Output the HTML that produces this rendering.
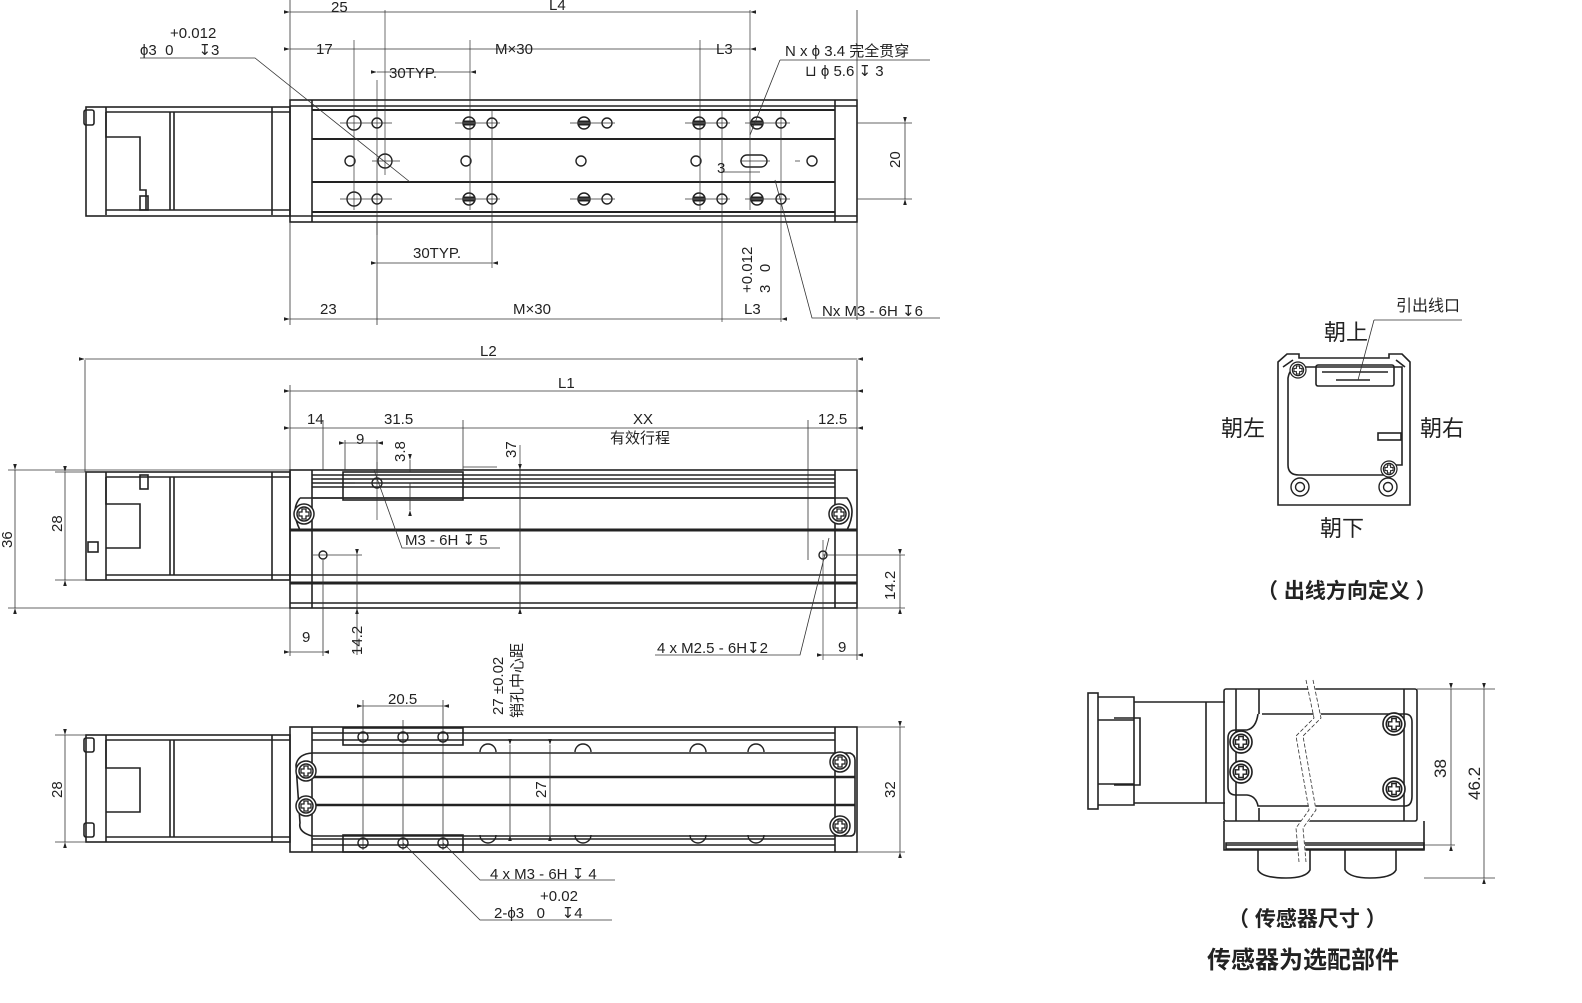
<!DOCTYPE html>
<html><head><meta charset="utf-8"><style>
html,body{margin:0;padding:0;background:#fff;width:1582px;height:1003px;overflow:hidden;}
svg{position:absolute;left:0;top:0;}
text{font-family:"Liberation Sans","Noto Sans CJK SC",sans-serif;fill:#222;font-size:15px;}
.s{font-family:"DejaVu Sans",sans-serif;}
.o{fill:none;stroke:#222;stroke-width:1.6;}
.t{fill:none;stroke:#222;stroke-width:3;}
.d{fill:none;stroke:#333;stroke-width:0.8;}
.dd{fill:none;stroke:#333;stroke-width:0.8;marker-start:url(#a);marker-end:url(#a);}
.h{fill:none;stroke:#222;stroke-width:1.4;}
.cn{fill:none;stroke:#333;stroke-width:0.7;}
</style></head><body>
<svg width="1582" height="1003" viewBox="0 0 1582 1003" xmlns="http://www.w3.org/2000/svg">
<defs>
<marker id="a" viewBox="0 0 10 10" refX="0" refY="5" markerWidth="9" markerHeight="6" orient="auto-start-reverse" markerUnits="userSpaceOnUse"><path d="M10,5 L0,2 L0,8z" fill="#222" transform="rotate(180 5 5)"/></marker>
<symbol id="scr" viewBox="-10 -10 20 20" overflow="visible">
<circle r="10" fill="#fff" stroke="#222" stroke-width="1.5"/><circle r="7" fill="none" stroke="#222" stroke-width="1.5"/>
<path d="M-2,-5 H2 V-2 H5 V2 H2 V5 H-2 V2 H-5 V-2 H-2Z" fill="none" stroke="#222" stroke-width="1.3"/>
</symbol>
<symbol id="hb" viewBox="-7 -7 14 14" overflow="visible"><circle r="6" fill="#fff" stroke="#222" stroke-width="1.5"/><path d="M-5,-1.5H5M-5,1.5H5" stroke="#222" stroke-width="2"/></symbol>
</defs>

<!-- ===================== TOP VIEW ===================== -->
<g>
<rect class="o" x="86" y="107" width="204" height="109"/>
<path class="o" d="M106,107 V215 M106,112 H290 M106,210 H290 M170,112 V210 M174,112 V210 M272,107 V215"/>
<path class="o" d="M106,112 V137 H140 V190 H146 V210"/>
<rect class="o" x="84" y="110" width="10" height="15" rx="2"/>
<rect class="o" x="140" y="196" width="8" height="14"/>
<rect class="o" x="290" y="100" width="567" height="122"/>
<path class="o" d="M312,100 V222 M835,100 V222 M290,106 H857 M290,216 H857"/>
<path class="t" d="M312,110 H835 M312,139 H835 M312,182 H835 M312,212 H835" style="stroke-width:2"/>
<g class="h">
<circle cx="354" cy="123" r="7"/><circle cx="377" cy="123" r="5"/>
<circle cx="354" cy="199" r="7"/><circle cx="377" cy="199" r="5"/>
<circle cx="350" cy="161" r="5"/><circle cx="385" cy="161" r="7"/>
<circle cx="466" cy="161" r="5"/><circle cx="581" cy="161" r="5"/><circle cx="696" cy="161" r="5"/><circle cx="812" cy="161" r="5"/>
<circle cx="492" cy="123" r="5"/><circle cx="607" cy="123" r="5"/><circle cx="722" cy="123" r="5"/><circle cx="781" cy="123" r="5"/>
<circle cx="492" cy="199" r="5"/><circle cx="607" cy="199" r="5"/><circle cx="722" cy="199" r="5"/><circle cx="781" cy="199" r="5"/>
<rect x="741" y="155" width="26" height="12" rx="6"/>
</g>
<use href="#hb" x="462" y="116" width="14" height="14"/><use href="#hb" x="577" y="116" width="14" height="14"/><use href="#hb" x="692" y="116" width="14" height="14"/><use href="#hb" x="750" y="116" width="14" height="14"/>
<use href="#hb" x="462" y="192" width="14" height="14"/><use href="#hb" x="577" y="192" width="14" height="14"/><use href="#hb" x="692" y="192" width="14" height="14"/><use href="#hb" x="750" y="192" width="14" height="14"/>
<path class="cn" d="M340,123 H392 M340,199 H392 M372,161 H400 M377,80 V235 M385,10 V175 M354,40 V210 M470,40 V210 M492,110 V268 M700,40 V210 M722,110 V322 M750,10 V210 M781,110 V322 M455,123 H500 M455,199 H500 M570,123 H615 M570,199 H615 M685,123 H730 M685,199 H730 M745,123 H790 M745,199 H790 M740,161 H770"/>
<path class="d" d="M290,0 V100 M857,100 V10"/>
<path class="dd" d="M290,12 H385 M385,12 H750"/>
<path class="dd" d="M290,49 H354 M354,49 H700 M700,49 H750"/>
<path class="dd" d="M377,72 H470"/>
<text x="331" y="12">25</text><text x="549" y="10">L4</text>
<text x="316" y="54">17</text><text x="495" y="54">M×30</text><text x="716" y="54">L3</text>
<text x="389" y="78">30TYP.</text>
<text x="170" y="38">+0.012</text><text x="140" y="55">ϕ3&#160;&#160;0&#160;&#160;&#160;&#160;&#160;&#160;<tspan class="s">↧</tspan>3</text>
<path class="d" d="M140,58 H255 L410,182"/>
<text x="785" y="56">N x ϕ 3.4 完全贯穿</text>
<text x="805" y="76">⊔&#160;ϕ 5.6 <tspan class="s">↧</tspan> 3</text>
<path class="d" d="M780,60 H930 M780,60 L750,135"/>
<path class="d" d="M290,222 V325 M377,222 V325 M857,222 V320"/>
<path class="dd" d="M377,263 H492"/><text x="413" y="258">30TYP.</text>
<path class="dd" d="M290,319 H377 M377,319 H722 M722,319 H781"/>
<text x="320" y="314">23</text><text x="513" y="314">M×30</text><text x="744" y="314">L3</text>
<path class="d" d="M722,172 H760 M795,161 H800"/>
<text x="717" y="173">3</text>
<text transform="translate(752,293) rotate(-90)">+0.012</text>
<text transform="translate(770,293) rotate(-90)">3&#160;&#160;&#160;0</text>
<path class="d" d="M775,180 L812,318 H940"/>
<text x="822" y="316">Nx&#160;M3 - 6H <tspan class="s">↧</tspan>6</text>
<path class="d" d="M857,123 H912 M857,199 H912"/>
<path class="dd" d="M905,123 V199"/>
<text transform="translate(900,168) rotate(-90)">20</text>
</g>

<!-- ===================== SIDE VIEW ===================== -->
<g>
<path class="d" d="M85,360 V472 M857,360 V470"/>
<path class="dd" d="M85,359 H857"/><text x="480" y="356">L2</text>
<path class="d" d="M290,385 V470"/>
<path class="dd" d="M290,391 H857"/><text x="558" y="388">L1</text>
<path class="d" d="M323,420 V470 M463,420 V470 M808,420 V560"/>
<path class="dd" d="M290,428 H323 M323,428 H463 M463,428 H808 M808,428 H857"/>
<text x="307" y="424">14</text><text x="384" y="424">31.5</text><text x="633" y="424">XX</text><text x="610" y="443">有效行程</text><text x="818" y="424">12.5</text>
<rect class="o" x="86" y="472" width="204" height="108"/>
<path class="o" d="M106,472 V580 M106,477 H290 M106,575 H290 M170,477 V575 M174,477 V575 M272,472 V580"/>
<path class="o" d="M106,477 V504 H140 V548 H106"/>
<rect class="o" x="140" y="475" width="8" height="14"/><rect class="o" x="88" y="542" width="10" height="10"/>
<rect class="o" x="290" y="470" width="567" height="138"/>
<path class="o" d="M312,470 V608 M835,470 V608"/>
<path class="o" d="M312,475 H835 M312,479 H835 M312,483 H835 M312,487 H835 M312,498 H835 M290,575 H857 M290,603 H857"/>
<path class="t" d="M290,530 H857 M290,583 H857"/>
<path class="o" d="M300,498 H847 Q857,510 847,530 H300 Q290,510 300,498"/>
<rect class="o" x="343" y="472" width="120" height="28" fill="#fff"/>
<use href="#scr" x="294" y="504" width="20" height="20"/><use href="#scr" x="829" y="504" width="20" height="20"/>
<circle class="h" cx="377" cy="483" r="5" fill="#222" fill-opacity=".3"/>
<circle class="h" cx="323" cy="555" r="4"/><circle class="h" cx="823" cy="555" r="4"/>
<path class="cn" d="M355,483 H413 M377,462 V520 M313,555 H362 M823,540 V660 M823,555 H905 M520,445 V608 M463,467 H497"/>
<path class="dd" d="M520,470 V608"/><text transform="translate(516,458) rotate(-90)">37</text>
<path class="d" d="M345,440 V470 M377,440 V470"/><path class="dd" d="M345,443 H377"/><text x="356" y="444">9</text>
<path class="dd" d="M410,460 V472 M410,483 V510"/><text transform="translate(405,462) rotate(-90)">3.8</text>
<path class="d" d="M374,470 L402,548 H500"/><text x="405" y="545">M3 - 6H <tspan class="s">↧</tspan> 5</text>
<path class="d" d="M8,470 H290 M55,472 H86 M55,580 H86 M8,608 H290"/>
<path class="dd" d="M15,470 V608"/><text transform="translate(12,548) rotate(-90)">36</text>
<path class="dd" d="M65,472 V580"/><text transform="translate(62,532) rotate(-90)">28</text>
<path class="d" d="M290,608 V656 M323,560 V656 M857,608 V660"/>
<path class="dd" d="M290,652 H323"/><text x="302" y="642">9</text>
<path class="dd" d="M357,555 V608"/><path class="d" d="M357,608 V655"/><text transform="translate(362,655) rotate(-90)">14.2</text>
<path class="dd" d="M823,655 H857"/><text x="838" y="652">9</text>
<path class="dd" d="M900,555 V608"/><path class="d" d="M857,608 H905"/><text transform="translate(895,600) rotate(-90)">14.2</text>
<path class="d" d="M829,538 L800,655 H655"/><text x="657" y="653">4 x&#160;M2.5 - 6H<tspan class="s">↧</tspan>2</text>
</g>

<!-- ===================== BOTTOM VIEW ===================== -->
<g>
<text transform="translate(503,715) rotate(-90)">27 ±0.02</text>
<text transform="translate(522,718) rotate(-90)">销孔中心距</text>
<path class="d" d="M363,700 V850 M443,700 V850 M403,720 V850"/><path class="dd" d="M363,706 H443"/><text x="388" y="704">20.5</text>
<rect class="o" x="86" y="735" width="204" height="107"/>
<path class="o" d="M106,735 V842 M106,740 H290 M106,837 H290 M170,740 V837 M174,740 V837 M272,735 V842"/>
<path class="o" d="M106,740 V768 H140 V812 H106"/>
<rect class="o" x="84" y="738" width="10" height="14" rx="2"/><rect class="o" x="84" y="823" width="10" height="14" rx="2"/>
<path class="d" d="M55,735 H86 M55,842 H86"/><path class="dd" d="M65,735 V842"/><text transform="translate(62,798) rotate(-90)">28</text>
<rect class="o" x="290" y="727" width="567" height="125"/>
<path class="o" d="M312,727 V852 M835,727 V852 M312,733 H835 M312,740 H835 M312,839 H835 M312,845 H835"/>
<path class="o" d="M312,753 H850 Q855,755 855,760 V830 Q855,836 850,836 H312 Q298,832 300,823 L296,765 Q298,754 312,753"/>
<path class="t" d="M298,777 H855 M298,805 H855" style="stroke-width:2.5"/>
<rect class="o" x="343" y="728" width="120" height="17" fill="#fff"/><rect class="o" x="343" y="835" width="120" height="17" fill="#fff"/>
<g class="h"><circle cx="363" cy="737" r="5"/><circle cx="403" cy="737" r="5"/><circle cx="443" cy="737" r="5"/><circle cx="363" cy="843" r="5"/><circle cx="403" cy="843" r="5"/><circle cx="443" cy="843" r="5"/>
<path d="M480,752 a8,8 0 0 1 16,0 M575,752 a8,8 0 0 1 16,0 M690,752 a8,8 0 0 1 16,0 M748,752 a8,8 0 0 1 16,0 M480,835 a8,8 0 0 0 16,0 M575,835 a8,8 0 0 0 16,0 M690,835 a8,8 0 0 0 16,0 M748,835 a8,8 0 0 0 16,0"/></g>
<use href="#scr" x="296" y="761" width="20" height="20"/><use href="#scr" x="296" y="796" width="20" height="20"/>
<use href="#scr" x="830" y="752" width="20" height="20"/><use href="#scr" x="830" y="816" width="20" height="20"/>
<path class="dd" d="M510,745 V835"/><path class="dd" d="M550,745 V835"/><text transform="translate(546,798) rotate(-90)">27</text>
<path class="d" d="M857,727 H905 M857,852 H905"/><path class="dd" d="M900,727 V852"/><text transform="translate(895,798) rotate(-90)">32</text>
<path class="d" d="M443,843 L480,880 H615 M403,843 L480,920 H612"/>
<text x="490" y="879">4 x&#160;M3 - 6H <tspan class="s">↧</tspan> 4</text>
<text x="540" y="901">+0.02</text>
<text x="494" y="918">2-ϕ3&#160;&#160;&#160;0&#160;&#160;&#160;&#160;<tspan class="s">↧</tspan>4</text>
</g>

<!-- ===================== SENSOR END VIEW ===================== -->
<g>
<path class="o" d="M1278,362 L1287,354 H1299 V358 H1389 V354 H1402 L1410,362 V505 H1278Z"/>
<path class="o" d="M1283,367 L1293,360 M1405,367 L1396,360"/>
<path class="o" d="M1298,367 H1402 V465 H1393 V475 H1299 Q1288,475 1288,465 V378 Q1290,367 1298,367" stroke-width="1.3"/>
<rect class="o" x="1316" y="365" width="78" height="21" rx="2"/>
<path class="o" d="M1322,372 H1388 M1336,380 H1370"/>
<use href="#scr" x="1290" y="362" width="16" height="16"/><use href="#scr" x="1381" y="461" width="16" height="16"/>
<circle class="h" cx="1300" cy="487" r="9"/><circle class="h" cx="1300" cy="487" r="4.5"/>
<circle class="h" cx="1388" cy="487" r="9"/><circle class="h" cx="1388" cy="487" r="4.5"/>
<rect class="o" x="1378" y="433" width="23" height="7"/>
<path class="d" d="M1374,320 H1462 M1374,320 L1358,380"/>
<text x="1396" y="311" style="font-size:16px">引出线口</text>
<text x="1324" y="340" style="font-size:22px">朝上</text>
<text x="1221" y="436" style="font-size:22px">朝左</text>
<text x="1420" y="436" style="font-size:22px">朝右</text>
<text x="1320" y="536" style="font-size:22px">朝下</text>
<text x="1257" y="598" style="font-size:21px;font-weight:bold">（ 出线方向定义 ）</text>
</g>

<!-- ===================== SENSOR SIDE VIEW ===================== -->
<g>
<rect class="o" x="1088" y="693" width="10" height="116"/>
<path class="o" d="M1098,697 H1134 V805 H1098 M1114,718 H1140 V785 H1114 M1134,702 H1206 V803 H1134 M1206,702 H1225 M1206,803 H1225 M1098,720 H1134 M1098,784 H1134"/>
<rect class="o" x="1224" y="689" width="193" height="132" rx="2"/>
<path class="o" d="M1236,689 V821 M1404,689 V821 M1259,689 V714 M1259,808 V821 M1226,845 H1424 M1226,843 H1424 V849 H1226Z"/>
<path class="o" d="M1224,821 V850 H1424 V821"/>
<path class="o" d="M1262,714 H1405 Q1412,714 1412,722 V796 Q1412,806 1405,806 H1258 Q1256,796 1247,795 H1236 Q1228,795 1228,787 V738 Q1228,730 1236,730 H1247 Q1256,728 1258,714" fill="#fff"/>
<use href="#scr" x="1230" y="731" width="22" height="22"/><use href="#scr" x="1230" y="761" width="22" height="22"/>
<use href="#scr" x="1383" y="713" width="22" height="22"/><use href="#scr" x="1383" y="778" width="22" height="22"/>
<path class="o" d="M1258,850 V870 Q1262,878 1286,878 Q1306,878 1310,870 V850 M1345,850 V870 Q1350,878 1370,878 Q1392,878 1396,870 V850"/>
<path d="M1310,680 L1318,718 L1300,736 L1313,810 L1300,828 L1303,862" fill="none" stroke="#fff" stroke-width="7"/>
<path class="d" d="M1306,680 L1314,718 L1296,736 L1309,810 L1296,828 L1299,862 M1313,680 L1321,718 L1303,736 L1316,810 L1303,828 L1306,862" stroke-dasharray="4,2"/>
<path class="d" d="M1417,689 H1495 M1424,845 H1455 M1424,878 H1495"/>
<path class="dd" d="M1451,689 V845"/><text transform="translate(1446,778) rotate(-90)" style="font-size:17px">38</text>
<path class="dd" d="M1484,689 V878"/><text transform="translate(1480,800) rotate(-90)" style="font-size:17px">46.2</text>
<text x="1228" y="926" style="font-size:21px;font-weight:bold">（ 传感器尺寸 ）</text>
<text x="1207" y="968" style="font-size:24px;font-weight:bold">传感器为选配部件</text>
</g>
</svg>
</body></html>
